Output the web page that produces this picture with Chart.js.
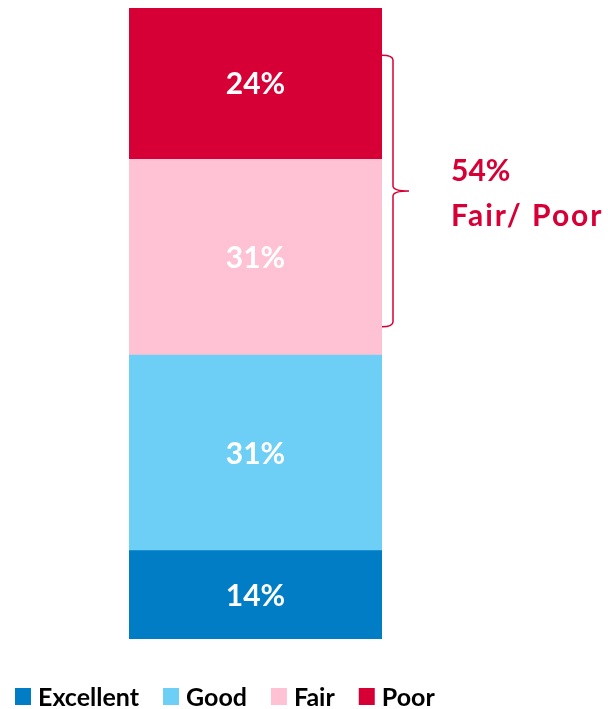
<!DOCTYPE html>
<html>
<head>
<meta charset="utf-8">
<script src="https://cdn.jsdelivr.net/npm/chart.js@4/dist/chart.umd.min.js"></script>
<style>
  html, body { margin: 0; padding: 0; background: #fff; }
  #wrap { position: relative; width: 608px; height: 709px; }
</style>
</head>
<body>
<div id="wrap"><canvas id="chart"></canvas></div>
<script>
// Rating shares, bottom to top of the stacked bar
const categories = ['Rating'];
const seriesNames = ['Excellent', 'Good', 'Fair', 'Poor'];
const seriesValues = [14, 31, 31, 24];
const seriesColors = ['#007DC5', '#6DCFF6', '#FFC2D4', '#D70036'];

// Bracket callout over Fair + Poor
const calloutLines = ['54%', 'Fair/ Poor'];
const bracketRange = [49.5, 92.5];

const FONT = 'Lato, "Open Sans", sans-serif';
const ACCENT = '#D70036';

const datasets = seriesNames.map((name, i) => ({
  label: name,
  data: [seriesValues[i]],
  backgroundColor: seriesColors[i],
  borderWidth: 0,
  barPercentage: 1,
  categoryPercentage: 1,
}));

// White value labels centred in each segment
const segmentLabels = {
  id: 'segmentLabels',
  afterDatasetsDraw(chart) {
    const ctx = chart.ctx;
    ctx.save();
    ctx.fillStyle = '#fff';
    ctx.font = `bold 30px ${FONT}`;
    ctx.textAlign = 'center';
    ctx.textBaseline = 'middle';
    chart.data.datasets.forEach((ds, i) => {
      const bar = chart.getDatasetMeta(i).data[0];
      ctx.fillText(ds.data[0] + '%', bar.x, (bar.y + bar.base) / 2 + 1);
    });
    ctx.restore();
  }
};

// Curly bracket + callout text
const bracket = {
  id: 'bracket',
  afterDraw(chart) {
    const ctx = chart.ctx;
    const y = chart.scales.y;
    const area = chart.chartArea;
    const top = y.getPixelForValue(bracketRange[1]);
    const bot = y.getPixelForValue(bracketRange[0]);
    const mid = top + (bot - top) * 0.5;
    const x0 = area.right, x1 = x0 + 11, x2 = x1 + 16;
    const r = 5;
    ctx.save();
    ctx.strokeStyle = ACCENT;
    ctx.lineWidth = 1.5;
    ctx.beginPath();
    ctx.moveTo(x0, top);
    ctx.quadraticCurveTo(x1, top, x1, top + r);
    ctx.lineTo(x1, mid - r);
    ctx.quadraticCurveTo(x1, mid, x2, mid);
    ctx.moveTo(x2, mid);
    ctx.quadraticCurveTo(x1, mid, x1, mid + r);
    ctx.lineTo(x1, bot - r);
    ctx.quadraticCurveTo(x1, bot, x0, bot);
    ctx.stroke();

    ctx.fillStyle = ACCENT;
    ctx.font = `bold 30px ${FONT}`;
    ctx.textAlign = 'left';
    ctx.textBaseline = 'alphabetic';
    ctx.fillText(calloutLines[0], 451, 181);
    ctx.letterSpacing = '2px';
    ctx.fillText(calloutLines[1], 451, 226);
    ctx.restore();
  }
};

// Legend row along the bottom
const legendRow = {
  id: 'legendRow',
  afterDraw(chart) {
    const ctx = chart.ctx;
    ctx.save();
    ctx.font = `bold 25px ${FONT}`;
    ctx.textBaseline = 'alphabetic';
    let x = 15;
    seriesNames.forEach((name, i) => {
      ctx.fillStyle = seriesColors[i];
      ctx.fillRect(x, 688, 16, 17);
      x += 16 + 7;
      ctx.fillStyle = '#000';
      ctx.fillText(name, x, 706);
      x += ctx.measureText(name).width + 24;
    });
    ctx.restore();
  }
};

new Chart(document.getElementById('chart'), {
  type: 'bar',
  data: { labels: categories, datasets },
  options: {
    responsive: true,
    maintainAspectRatio: false,
    animation: false,
    layout: { padding: { left: 129, right: 226, top: 8, bottom: 70 } },
    plugins: {
      legend: { display: false },
      tooltip: { enabled: false },
    },
    scales: {
      x: { stacked: true, display: false },
      y: { stacked: true, display: false, min: 0, max: 100 },
    }
  },
  plugins: [segmentLabels, bracket, legendRow]
});
</script>
</body>
</html>
